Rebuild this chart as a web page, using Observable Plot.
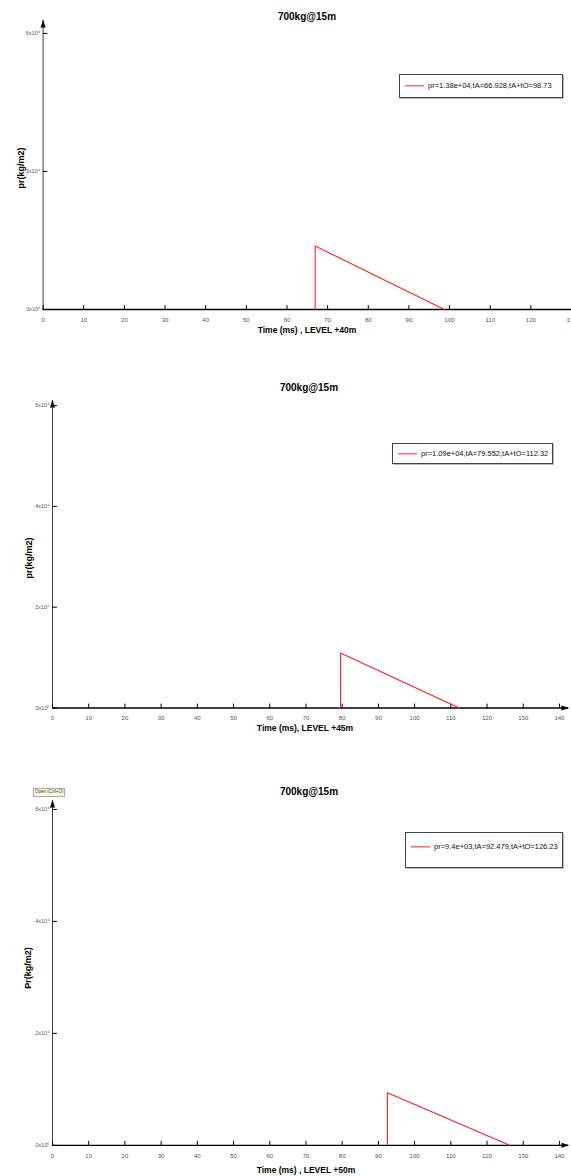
<!DOCTYPE html>
<html><head><meta charset="utf-8">
<script src="https://cdn.jsdelivr.net/npm/d3@7"></script>
<script src="https://cdn.jsdelivr.net/npm/@observablehq/plot@0.6"></script>
<style>
body{margin:0;background:#fff;}
#root{position:relative;width:571px;height:1176px;overflow:hidden;font-family:"Liberation Sans",Arial,sans-serif;color:#000;}
.abs{position:absolute;white-space:nowrap;line-height:1;}
.title{font-weight:bold;font-size:10px;transform:translate(-50%,-50%);}
.xlab{font-weight:bold;font-size:8.5px;transform:translate(-50%,-50%);}
.ylab{font-weight:bold;font-size:9px;transform:translate(-50%,-50%) rotate(-90deg);}
.legend{border:1px solid #444;box-shadow:1px 1px 0 #bbb;background:#fff;box-sizing:border-box;}
.legend .ln{position:absolute;left:5px;width:19px;height:1.3px;background:#ff2020;transform:translateY(-50%);}
.legend .tx{position:absolute;left:28px;font-size:7.5px;transform:translateY(-50%);color:#111;}
.tip{background:#ffffe1;border:1px solid #aaa;font-size:4.5px;padding:1px 1px;color:#333;}
.plot{position:absolute;left:0;}
</style></head><body><div id="root"></div><script>
// ---- data ----
const titles = ["700kg@15m", "700kg@15m", "700kg@15m"];
const xTitles = ["Time (ms) , LEVEL +40m", "Time (ms),  LEVEL +45m", "Time (ms) , LEVEL +50m"];
const yTitles = ["pr(kg/m2)", "pr(kg/m2)", "Pr(kg/m2)"];
const peakPr = [13800, 10900, 9400];
const arrivalT = [66.928, 79.552, 92.479];
const endT = [98.73, 112.32, 126.23];
const legendTexts = ["pr=1.38e+04,tA=66.928,tA+tO=98.73", "pr=1.09e+04,tA=79.552,tA+tO=112.32", "pr=9.4e+03,tA=92.479,tA+tO=126.23"];
const xTicks1 = [0,10,20,30,40,50,60,70,80,90,100,110,120,130];
const xTicks23 = [0,10,20,30,40,50,60,70,80,90,100,110,120,130,140];
const yTicks1 = [0, 30000, 60000];
const yTicks23 = [0, 20000, 40000, 60000];

// ---- layout ----
const layout = [
  {top:0, height:340, mt:20, mb:31, ml:42.6, mr:0, xDom:[0,130], yDom:[0,62800], xTicks:xTicks1, yTicks:yTicks1, xArrow:false,
   title:[307,16.5], xlab:[307,330], ylab:[21,168], legend:{l:399,t:74,w:164,h:24}},
  {top:360, height:370, mt:40, mb:22.5, ml:52, mr:3, xDom:[0,142.5], yDom:[0,61000], xTicks:xTicks23, yTicks:yTicks23, xArrow:true,
   title:[309,388], xlab:[305,727.5], ylab:[29,558], legend:{l:392,t:443,w:161,h:21}},
  {top:780, height:396, mt:20, mb:31.2, ml:52, mr:3, xDom:[0,142.5], yDom:[0,61600], xTicks:xTicks23, yTicks:yTicks23, xArrow:true,
   title:[309,792], xlab:[306,1170], ylab:[28,968], legend:{l:405,t:832,w:158,h:36}}
];

const root = document.getElementById("root");
const tickShape = {draw(ctx, l){ ctx.moveTo(0,0); ctx.lineTo(0,-l); }};
const yFmt = d => d === 0 ? "0x10\u2070" : `${d/1e4}x10\u2074`;

function addDiv(cls, x, y, text){
  const d = document.createElement("div");
  d.className = "abs " + cls;
  d.style.left = x + "px"; d.style.top = y + "px";
  d.textContent = text;
  root.appendChild(d);
  return d;
}

layout.forEach((L, i) => {
  const tri = [
    {t: arrivalT[i], p: 0},
    {t: arrivalT[i], p: peakPr[i]},
    {t: endT[i], p: 0}
  ];
  const marks = [
    Plot.ruleY([0], {stroke: "#000", strokeWidth: 1.3}),
    Plot.ruleX([0], {stroke: "#444", strokeWidth: 1}),
    Plot.vector([L.yDom[1]], {x: 0, y: d => d, length: 7, r: 2.2, shape: "spike", anchor: "end", fill: "#000", stroke: "#000", strokeWidth: 0.5}),
    Plot.vector(L.xTicks, {x: d => d, y: 0, length: 4, shape: tickShape, anchor: "start", stroke: "#000", strokeWidth: 1}),
    Plot.vector(L.yTicks, {x: 0, y: d => d, length: 4, rotate: 90, shape: tickShape, anchor: "start", stroke: "#000", strokeWidth: 1}),
    Plot.axisX({ticks: L.xTicks, tickSize: 0, tickPadding: 8, tickFormat: d => String(d), label: null, fontSize: 6, fill: "#555"}),
    Plot.axisY({ticks: L.yTicks, tickSize: 0, tickPadding: 3, tickFormat: yFmt, label: null, fontSize: 5.5, fill: "#555"}),
    Plot.line(tri, {x: "t", y: "p", stroke: "#ff2020", strokeWidth: 1.1})
  ];
  if (L.xArrow) marks.push(Plot.vector([L.xDom[1]], {x: d => d, y: 0, length: 7, r: 2.2, rotate: 90, shape: "spike", anchor: "end", fill: "#000", stroke: "#000", strokeWidth: 0.5}));
  const svg = Plot.plot({
    width: 571, height: L.height,
    marginTop: L.mt, marginBottom: L.mb, marginLeft: L.ml, marginRight: L.mr,
    x: {domain: L.xDom, axis: null},
    y: {domain: L.yDom, axis: null},
    style: {fontFamily: "'Liberation Sans Narrow','Liberation Sans',Arial,sans-serif", fontSize: "6px", background: "transparent", overflow: "visible"},
    marks
  });
  svg.classList.add("plot");
  svg.style.top = L.top + "px";
  root.appendChild(svg);

  addDiv("title", L.title[0], L.title[1], titles[i]);
  addDiv("xlab", L.xlab[0], L.xlab[1], xTitles[i]);
  addDiv("ylab", L.ylab[0], L.ylab[1], yTitles[i]);

  const lg = document.createElement("div");
  lg.className = "abs legend";
  Object.assign(lg.style, {left: L.legend.l + "px", top: L.legend.t + "px", width: L.legend.w + "px", height: L.legend.h + "px"});
  const mid = i === 2 ? 14 : (L.legend.h - 2) / 2;
  const ln = document.createElement("div"); ln.className = "ln"; ln.style.top = mid + "px";
  const tx = document.createElement("div"); tx.className = "tx"; tx.style.top = mid + "px"; tx.textContent = legendTexts[i];
  lg.appendChild(ln); lg.appendChild(tx);
  root.appendChild(lg);
});

addDiv("tip", 33, 788, "Open (Ctrl+O)");
</script></body></html>
